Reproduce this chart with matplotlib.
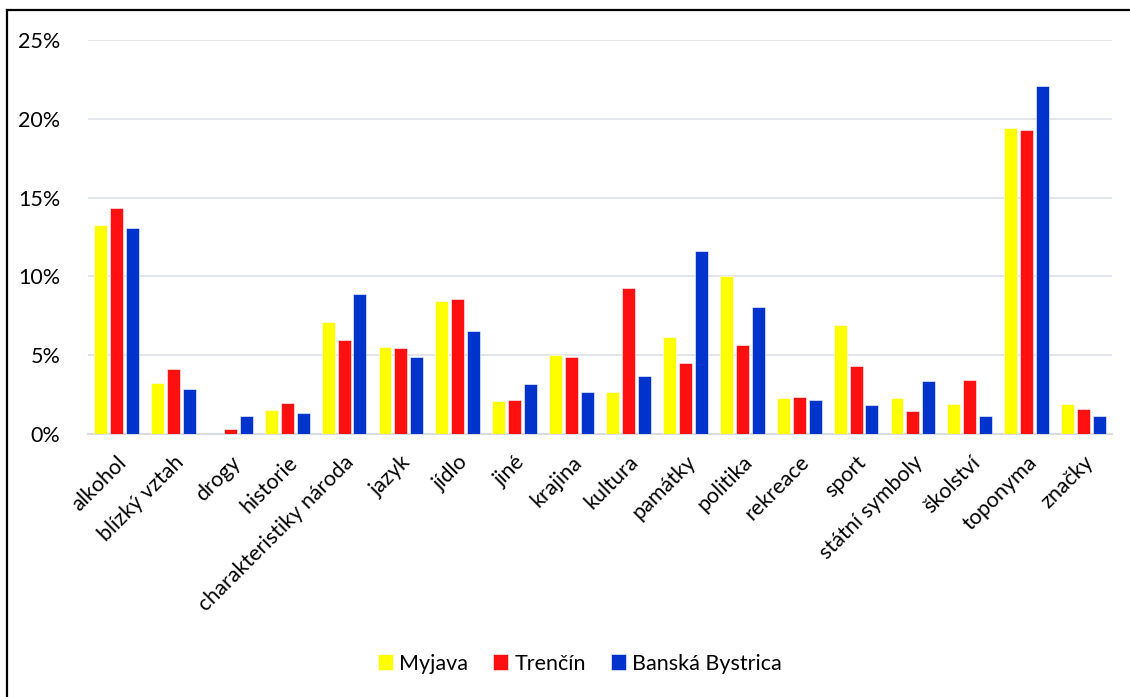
import numpy as np
import matplotlib
matplotlib.use("Agg")
import matplotlib.pyplot as plt
from matplotlib.lines import Line2D
from matplotlib.ticker import PercentFormatter

plt.rcParams['font.family'] = ['Lato', 'DejaVu Sans']

categories = ['alkohol', 'blízký vztah', 'drogy', 'historie', 'charakteristiky národa',
              'jazyk', 'jídlo', 'jiné', 'krajina', 'kultura', 'památky', 'politika',
              'rekreace', 'sport', 'státní symboly', 'školství', 'toponyma', 'značky']
myjava = [13.26, 3.24, 0.0, 1.52, 7.10, 5.54, 8.44, 2.07, 4.99, 2.67, 6.13, 10.0,
          2.28, 6.92, 2.28, 1.90, 19.44, 1.90]
trencin = [14.36, 4.14, 0.32, 1.99, 5.96, 5.44, 8.57, 2.16, 4.89, 9.26, 4.50, 5.63,
           2.35, 4.33, 1.44, 3.43, 19.31, 1.61]
bystrica = [13.10, 2.83, 1.14, 1.31, 8.90, 4.87, 6.54, 3.17, 2.67, 3.68, 11.61, 8.06,
            2.16, 1.84, 3.34, 1.14, 22.08, 1.14]
series = ['Myjava', 'Trenčín', 'Banská Bystrica']
colors = ['#FFFF00', '#FF1010', '#0033CC']

fig = plt.figure(figsize=(11.3, 6.97), dpi=100)
ax = fig.add_axes([0.0779, 0.3773, 0.9062, 0.5653])

x = np.arange(len(categories))
w = 0.228
step = 0.28
for i, (vals, c, name) in enumerate(zip([myjava, trencin, bystrica], colors, series)):
    ax.bar(x + (i - 1) * step, np.array(vals) / 100, width=w, color=c, label=name,
           edgecolor='white', linewidth=0.4, zorder=3)

ax.set_xlim(-0.5, len(categories) - 0.5)
ax.set_ylim(0, 0.25)
ax.set_yticks(np.arange(0, 0.26, 0.05))
ax.yaxis.set_major_formatter(PercentFormatter(1.0, decimals=0))
ax.grid(axis='y', color='#dfe3e8', linewidth=1.3, zorder=0)
for s in ['top', 'right', 'left']:
    ax.spines[s].set_visible(False)
ax.spines['bottom'].set_color('#d9dde3')
ax.spines['bottom'].set_linewidth(1.5)
ax.tick_params(axis='both', length=0, labelsize=15.5, colors='black')
ax.tick_params(axis='y', pad=20)
ax.tick_params(axis='x', pad=13)
ax.set_xticks(x)
ax.set_xticklabels(categories, rotation=45, ha='right', rotation_mode='anchor')

fig.legend(loc='center', bbox_to_anchor=(0.513, 0.048), ncol=3, frameon=False,
           fontsize=15.5, handlelength=0.7, handleheight=0.7, handletextpad=0.3,
           columnspacing=1.15)

# outer frame (top and left edges visible)
fig.add_artist(Line2D([7 / 1130, 1], [1 - 10 / 697, 1 - 10 / 697], color='black',
                      linewidth=1.6, transform=fig.transFigure))
fig.add_artist(Line2D([7 / 1130, 7 / 1130], [0, 1 - 10 / 697], color='black',
                      linewidth=1.6, transform=fig.transFigure))

fig.savefig('out.png', dpi=100, facecolor='white')
